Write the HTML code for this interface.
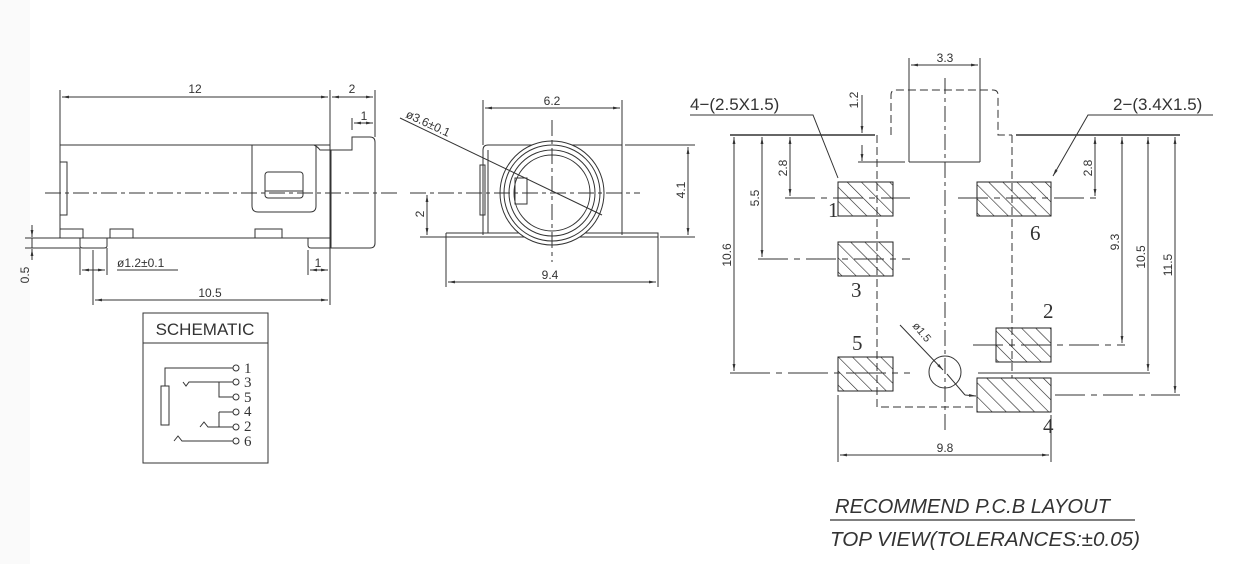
<!DOCTYPE html>
<html><head><meta charset="utf-8"><style>
html,body{margin:0;padding:0;background:#fff;}
svg{display:block;}
text{font-family:"Liberation Sans",sans-serif;fill:#333;}
text.s{font-family:"Liberation Serif",serif;}
</style></head><body>
<svg width="1246" height="564" viewBox="0 0 1246 564" xmlns="http://www.w3.org/2000/svg">
<defs>
<pattern id="h" patternUnits="userSpaceOnUse" width="10" height="10" patternTransform="rotate(-45)">
<line x1="0" y1="0" x2="0" y2="10" stroke="#222" stroke-width="1.2"/>
</pattern>
<marker id="a" viewBox="0 0 10 10" refX="10" refY="5" markerWidth="7" markerHeight="7" orient="auto-start-reverse"><path d="M0,3 L10,5 L0,7 z" fill="#333"/></marker>
</defs>
<rect x="0" y="0" width="30" height="564" fill="#fafafa"/>
<g stroke="#333" stroke-width="1" fill="none">
<!-- SIDE VIEW -->
<line x1="60" y1="90" x2="60" y2="145"/>
<line x1="330" y1="90" x2="330" y2="305"/>
<line x1="375" y1="90" x2="375" y2="137"/>
<line x1="62" y1="97" x2="328" y2="97" marker-start="url(#a)" marker-end="url(#a)"/>
<line x1="332" y1="97" x2="373" y2="97" marker-start="url(#a)" marker-end="url(#a)"/>
<line x1="352" y1="118" x2="352" y2="130"/>
<line x1="354" y1="123" x2="373" y2="123" marker-start="url(#a)" marker-end="url(#a)"/>
<rect x="60" y="145" width="270" height="93"/>
<rect x="60" y="162" width="7" height="53"/>
<path d="M252,145 H314 Q318,147 320,150 H331"/>
<path d="M252,145 V206 Q252,212 258,212 H310 Q316,212 316,206 V145"/>
<rect x="265" y="172" width="38" height="26" rx="3"/>
<line x1="265" y1="191" x2="303" y2="191"/>
<path d="M331,150 H352 V137 H370 Q375,137 375,142 V243 Q375,248 370,248 H331 V150"/>
<path d="M331,238 H308 V245 Q308,248 311,248 H331"/>
<path d="M80,238 V246 Q80,248 83,248 H104 Q107,248 107,246 V238"/>
<rect x="60" y="229" width="23" height="9"/>
<rect x="110" y="229" width="23" height="9"/>
<rect x="255" y="229" width="27" height="9"/>
<line x1="45" y1="193" x2="400" y2="193" stroke-dasharray="16,4,4,4"/>
<line x1="80" y1="248" x2="80" y2="275"/>
<line x1="107" y1="248" x2="107" y2="275"/>
<line x1="93" y1="250" x2="93" y2="305"/>
<line x1="82" y1="270" x2="105" y2="270" marker-start="url(#a)" marker-end="url(#a)"/>
<line x1="117" y1="270" x2="178" y2="270"/>
<line x1="95" y1="300" x2="328" y2="300" marker-start="url(#a)" marker-end="url(#a)"/>
<line x1="308" y1="250" x2="308" y2="275"/>
<line x1="310" y1="270" x2="328" y2="270" marker-start="url(#a)" marker-end="url(#a)"/>
<line x1="25" y1="238" x2="60" y2="238"/>
<line x1="25" y1="248" x2="80" y2="248"/>
<line x1="32" y1="225" x2="32" y2="237" marker-end="url(#a)"/>
<line x1="32" y1="260" x2="32" y2="249" marker-end="url(#a)"/>
<line x1="32" y1="238" x2="32" y2="248"/>
<!-- FRONT VIEW -->
<line x1="483" y1="100" x2="483" y2="145"/>
<line x1="622" y1="100" x2="622" y2="145"/>
<line x1="485" y1="108" x2="620" y2="108" marker-start="url(#a)" marker-end="url(#a)"/>
<path d="M483,235 V150 Q483,145 488,145 H622 V235"/>
<line x1="488" y1="150" x2="488" y2="233"/>
<rect x="480" y="165" width="5" height="50"/>
<path d="M446,233 H658 V237"/>
<line x1="446" y1="233" x2="446" y2="287"/>
<line x1="658" y1="233" x2="658" y2="287"/>
<line x1="446" y1="237" x2="658" y2="237"/>
<circle cx="552" cy="193" r="52" fill="#fff"/>
<circle cx="552" cy="193" r="48"/>
<circle cx="552" cy="193" r="43"/>
<circle cx="552" cy="193" r="38"/>
<rect x="515" y="178" width="12" height="26"/>
<line x1="410" y1="193" x2="640" y2="193" stroke-dasharray="16,4,4,4"/>
<line x1="552" y1="120" x2="552" y2="262" stroke-dasharray="16,4,4,4"/>
<line x1="400" y1="118" x2="602" y2="215"/>
<line x1="625" y1="145" x2="695" y2="145"/>
<line x1="660" y1="237" x2="695" y2="237"/>
<line x1="688" y1="147" x2="688" y2="235" marker-start="url(#a)" marker-end="url(#a)"/>
<line x1="420" y1="237" x2="446" y2="237"/>
<line x1="427" y1="195" x2="427" y2="235" marker-start="url(#a)" marker-end="url(#a)"/>
<line x1="448" y1="282" x2="656" y2="282" marker-start="url(#a)" marker-end="url(#a)"/>
<!-- SCHEMATIC -->
<rect x="143" y="313" width="125" height="150"/>
<line x1="143" y1="343" x2="268" y2="343"/>
<rect x="161" y="386" width="8" height="39"/>
<path d="M165,386 V368 H233"/>
<path d="M183,382 L186,386 L189,382 H233"/>
<path d="M219,382 V397 H233"/>
<path d="M219,412 H233"/>
<path d="M219,412 V427"/>
<path d="M200,427 L204,422 L208,427 H233"/>
<path d="M174,441 L178,436 L182,441 H233"/>
<circle cx="236" cy="368" r="3"/><circle cx="236" cy="382" r="3"/><circle cx="236" cy="397" r="3"/>
<circle cx="236" cy="412" r="3"/><circle cx="236" cy="427" r="3"/><circle cx="236" cy="441" r="3"/>
<!-- PCB -->
<line x1="909" y1="58" x2="909" y2="162"/>
<line x1="980" y1="58" x2="980" y2="162"/>
<line x1="911" y1="65" x2="978" y2="65" marker-start="url(#a)" marker-end="url(#a)"/>
<path d="M891,135 V95 Q891,90 896,90 H993 Q998,90 998,95 V135 H1012" stroke-dasharray="8,4"/>
<line x1="730" y1="135" x2="875" y2="135" stroke-width="1.5"/>
<line x1="1016" y1="135" x2="1180" y2="135" stroke-width="1.5"/>
<line x1="909" y1="162" x2="980" y2="162"/>
<line x1="858" y1="162" x2="905" y2="162"/>
<line x1="862" y1="95" x2="862" y2="133" marker-end="url(#a)"/>
<line x1="862" y1="145" x2="862" y2="161" marker-end="url(#a)"/>
<path d="M877,135 V407 H977" stroke-dasharray="8,4"/>
<path d="M1012,135 V378" stroke-dasharray="8,4"/>
<line x1="945" y1="78" x2="945" y2="430" stroke-dasharray="16,4,4,4"/>
<rect x="838" y="182" width="55" height="34" fill="url(#h)" stroke="#222"/>
<rect x="977" y="182" width="74" height="34" fill="url(#h)" stroke="#222"/>
<rect x="838" y="242" width="55" height="34" fill="url(#h)" stroke="#222"/>
<rect x="838" y="357" width="55" height="34" fill="url(#h)" stroke="#222"/>
<rect x="996" y="328" width="55" height="34" fill="url(#h)" stroke="#222"/>
<rect x="977" y="378" width="74" height="34" fill="url(#h)" stroke="#222"/>
<circle cx="945" cy="372" r="16"/>
<line x1="900" y1="325" x2="943" y2="370" marker-end="url(#a)"/>
<line x1="947" y1="374" x2="965" y2="395" />
<line x1="965" y1="395" x2="976" y2="396" marker-end="url(#a)"/>
<line x1="785" y1="198" x2="910" y2="198" stroke-dasharray="30,6,6,6"/>
<line x1="958" y1="198" x2="1100" y2="198" stroke-dasharray="30,6,6,6"/>
<line x1="758" y1="259" x2="910" y2="259" stroke-dasharray="30,6,6,6"/>
<line x1="730" y1="373" x2="910" y2="373" stroke-dasharray="40,6,6,6"/>
<line x1="978" y1="373" x2="1150" y2="373"/>
<line x1="973" y1="345" x2="1125" y2="345" stroke-dasharray="30,6,6,6"/>
<line x1="1055" y1="395" x2="1180" y2="395" stroke-dasharray="30,6,6,6"/>
<line x1="790" y1="137" x2="790" y2="196" marker-start="url(#a)" marker-end="url(#a)"/>
<line x1="762" y1="137" x2="762" y2="257" marker-start="url(#a)" marker-end="url(#a)"/>
<line x1="734" y1="137" x2="734" y2="371" marker-start="url(#a)" marker-end="url(#a)"/>
<line x1="1095" y1="137" x2="1095" y2="196" marker-start="url(#a)" marker-end="url(#a)"/>
<line x1="1122" y1="137" x2="1122" y2="343" marker-start="url(#a)" marker-end="url(#a)"/>
<line x1="1148" y1="137" x2="1148" y2="371" marker-start="url(#a)" marker-end="url(#a)"/>
<line x1="1175" y1="137" x2="1175" y2="393" marker-start="url(#a)" marker-end="url(#a)"/>
<line x1="838" y1="395" x2="838" y2="462"/>
<line x1="1051" y1="415" x2="1051" y2="462"/>
<line x1="840" y1="455" x2="1049" y2="455" marker-start="url(#a)" marker-end="url(#a)"/>
<path d="M690,115 H813 L838,178" />
<path d="M1213,115 H1088 L1053,176" marker-end="url(#a)"/>
<line x1="830" y1="520" x2="1135" y2="520" stroke-width="1.3"/>
</g>
<g font-size="12">
<text x="195" y="93" text-anchor="middle">12</text>
<text x="352" y="93" text-anchor="middle">2</text>
<text x="364" y="120" text-anchor="middle">1</text>
<text x="117" y="267">ø1.2±0.1</text>
<text x="318" y="267" text-anchor="middle">1</text>
<text x="210" y="297" text-anchor="middle">10.5</text>
<text transform="translate(29,275) rotate(-90)" text-anchor="middle">0.5</text>
<text x="552" y="105" text-anchor="middle">6.2</text>
<text transform="translate(405,117) rotate(25)">ø3.6±0.1</text>
<text transform="translate(685,190) rotate(-90)" text-anchor="middle">4.1</text>
<text transform="translate(424,214) rotate(-90)" text-anchor="middle">2</text>
<text x="550" y="279" text-anchor="middle">9.4</text>
<text x="945" y="62" text-anchor="middle">3.3</text>
<text transform="translate(858,100) rotate(-90)" text-anchor="middle">1.2</text>
<text transform="translate(787,168) rotate(-90)" text-anchor="middle">2.8</text>
<text transform="translate(759,198) rotate(-90)" text-anchor="middle">5.5</text>
<text transform="translate(731,255) rotate(-90)" text-anchor="middle">10.6</text>
<text transform="translate(1092,168) rotate(-90)" text-anchor="middle">2.8</text>
<text transform="translate(1119,242) rotate(-90)" text-anchor="middle">9.3</text>
<text transform="translate(1145,257) rotate(-90)" text-anchor="middle">10.5</text>
<text transform="translate(1172,265) rotate(-90)" text-anchor="middle">11.5</text>
<text x="945" y="452" text-anchor="middle">9.8</text>
<text transform="translate(912,326) rotate(50)" font-size="11">ø1.5</text>
</g>
<text x="690" y="110" font-size="17">4−(2.5X1.5)</text>
<text x="1113" y="110" font-size="17">2−(3.4X1.5)</text>
<text x="205" y="335" font-size="17" text-anchor="middle">SCHEMATIC</text>
<g font-size="15">
<text class="s" x="244" y="373">1</text><text class="s" x="244" y="387">3</text><text class="s" x="244" y="402">5</text>
<text class="s" x="244" y="416">4</text><text class="s" x="244" y="431">2</text><text class="s" x="244" y="446">6</text>
</g>
<g font-size="21">
<text class="s" x="828" y="217">1</text><text class="s" x="1030" y="240">6</text><text class="s" x="851" y="297">3</text>
<text class="s" x="1043" y="318">2</text><text class="s" x="852" y="350">5</text><text class="s" x="1043" y="433">4</text>
</g>
<text x="835" y="513" font-size="20" font-style="italic" textLength="275" lengthAdjust="spacingAndGlyphs">RECOMMEND P.C.B LAYOUT</text>
<text x="830" y="546" font-size="20" font-style="italic" textLength="310" lengthAdjust="spacingAndGlyphs">TOP VIEW(TOLERANCES:±0.05)</text>
</svg>
</body></html>
